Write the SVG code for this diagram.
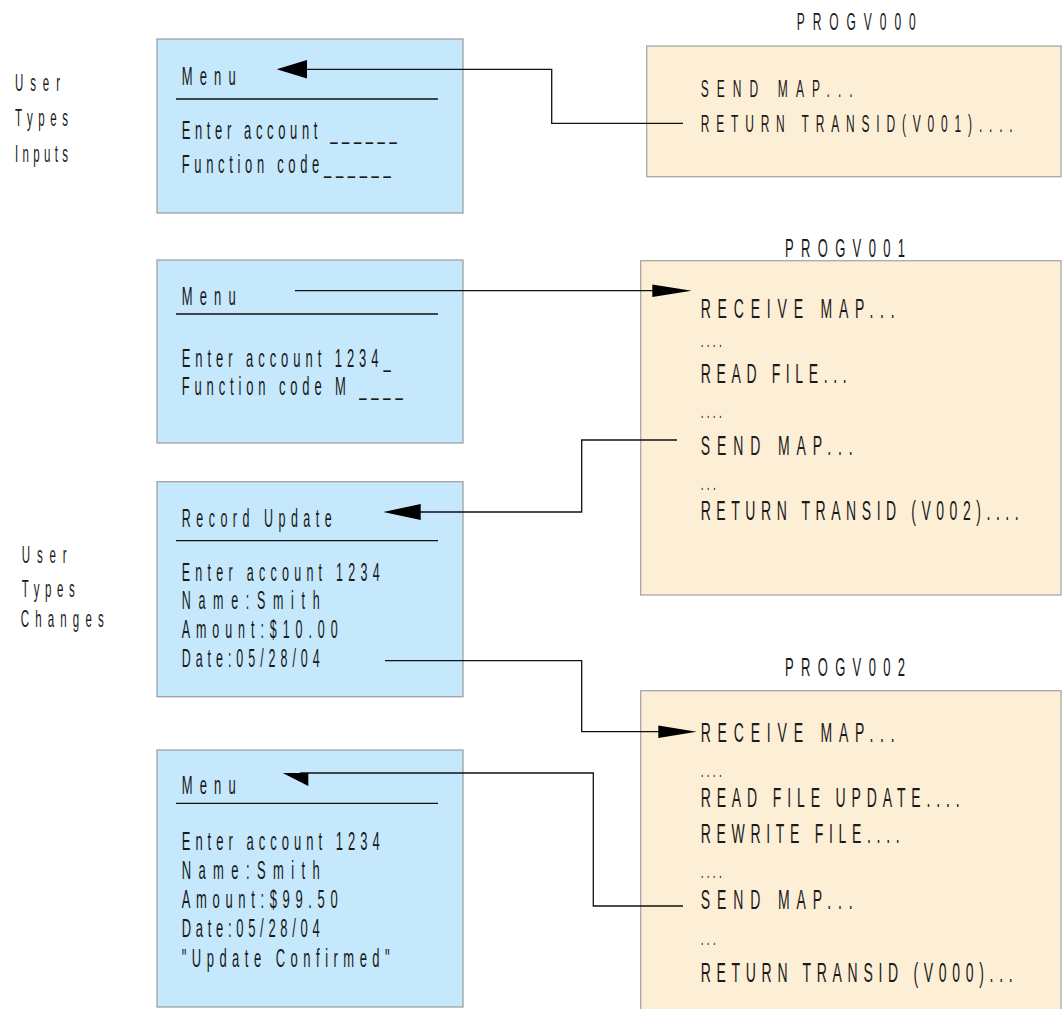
<svg xmlns="http://www.w3.org/2000/svg" width="1062" height="1009" viewBox="0 0 1062 1009">
<style>
text{font-family:"Liberation Sans",Arial,sans-serif;fill:#1a1a1a;}
.scr{fill:#c5e8fc;stroke:#a0a0a0;stroke-width:1.3;}
.prg{fill:#fdefd6;stroke:#a8a8a8;stroke-width:1.3;}
.hl{stroke:#111;stroke-width:1.3;fill:none;}
.c{stroke:#111;stroke-width:1.3;fill:none;}
.ah{fill:#000;stroke:none;}
.dots{font-size:20px;}
</style>
<rect width="1062" height="1009" fill="#fff"/>

<g id="label-inputs" font-size="23">
<text transform="scale(0.5,1)" x="30" y="90.7" textLength="90" lengthAdjust="spacing">User</text>
<text transform="scale(0.5,1)" x="30" y="126" textLength="106" lengthAdjust="spacing">Types</text>
<text transform="scale(0.5,1)" x="30" y="161.7" textLength="106" lengthAdjust="spacing">Inputs</text>
</g>
<g id="label-changes" font-size="23">
<text transform="scale(0.5,1)" x="43.4" y="563.3" textLength="90" lengthAdjust="spacing">User</text>
<text transform="scale(0.5,1)" x="43.4" y="596.7" textLength="106" lengthAdjust="spacing">Types</text>
<text transform="scale(0.5,1)" x="41.4" y="626.7" textLength="166" lengthAdjust="spacing">Changes</text>
</g>

<g id="screen1" font-size="26">
<rect class="scr" x="157" y="39" width="306" height="174"/>
<line class="hl" x1="176" y1="99" x2="438" y2="99"/>
<text transform="scale(0.5,1)" x="363.4" y="85" textLength="108" lengthAdjust="spacing">Menu</text>
<text transform="scale(0.5,1)" x="363.4" y="139.5" textLength="430" lengthAdjust="spacing">Enter account ______</text>
<text transform="scale(0.5,1)" x="363.4" y="173" textLength="418" lengthAdjust="spacing">Function code______</text>
</g>

<g id="screen2" font-size="26">
<rect class="scr" x="157" y="260" width="306" height="183"/>
<line class="hl" x1="176" y1="314" x2="438" y2="314"/>
<text transform="scale(0.5,1)" x="363.4" y="305" textLength="108" lengthAdjust="spacing">Menu</text>
<text transform="scale(0.5,1)" x="363.4" y="367" textLength="418" lengthAdjust="spacing">Enter account 1234_</text>
<text transform="scale(0.5,1)" x="363.4" y="395" textLength="442" lengthAdjust="spacing">Function code M ____</text>
</g>

<g id="screen3" font-size="25">
<rect class="scr" x="157" y="481.7" width="306" height="215"/>
<line class="hl" x1="176" y1="540.7" x2="438" y2="540.7"/>
<text transform="scale(0.5,1)" x="363.4" y="527.3" textLength="300" lengthAdjust="spacing">Record Update</text>
<text transform="scale(0.5,1)" x="363.4" y="580.7" textLength="396" lengthAdjust="spacing">Enter account 1234</text>
<text transform="scale(0.5,1)" x="363.4" y="609.3" textLength="276" lengthAdjust="spacing">Name:Smith</text>
<text transform="scale(0.5,1)" x="363.4" y="637.7" textLength="312" lengthAdjust="spacing">Amount:$10.00</text>
<text transform="scale(0.5,1)" x="363.4" y="667" textLength="276" lengthAdjust="spacing">Date:05/28/04</text>
</g>

<g id="screen4" font-size="26">
<rect class="scr" x="157" y="750" width="306" height="257"/>
<line class="hl" x1="176" y1="803.3" x2="438" y2="803.3"/>
<text transform="scale(0.5,1)" x="363.4" y="794" textLength="108" lengthAdjust="spacing">Menu</text>
<text transform="scale(0.5,1)" x="363.4" y="850" textLength="396" lengthAdjust="spacing">Enter account 1234</text>
<text transform="scale(0.5,1)" x="363.4" y="879.3" textLength="276" lengthAdjust="spacing">Name:Smith</text>
<text transform="scale(0.5,1)" x="363.4" y="908.3" textLength="312" lengthAdjust="spacing">Amount:$99.50</text>
<text transform="scale(0.5,1)" x="363.4" y="937.3" textLength="276" lengthAdjust="spacing">Date:05/28/04</text>
<text transform="scale(0.5,1)" x="363.4" y="966.7" textLength="416" lengthAdjust="spacing">"Update Confirmed"</text>
</g>

<g id="progv000" font-size="24">
<text transform="scale(0.5,1)" x="1593.4" y="30" font-size="24" textLength="238" lengthAdjust="spacing">PROGV000</text>
<rect class="prg" x="646.7" y="46" width="414.3" height="130.7"/>
<text transform="scale(0.5,1)" x="1401.4" y="96.7" textLength="304" lengthAdjust="spacing">SEND MAP...</text>
<text transform="scale(0.5,1)" x="1401.4" y="131.7" textLength="624" lengthAdjust="spacing">RETURN TRANSID(V001)....</text>
</g>

<g id="progv001" font-size="28">
<text transform="scale(0.5,1)" x="1570" y="257.3" font-size="26" textLength="240" lengthAdjust="spacing">PROGV001</text>
<rect class="prg" x="640.7" y="260.7" width="420.3" height="334.3"/>
<text transform="scale(0.5,1)" x="1401.4" y="318.3" textLength="388" lengthAdjust="spacing">RECEIVE MAP...</text>
<text class="dots" transform="scale(0.5,1)" x="1401.4" y="347.3" textLength="42" lengthAdjust="spacing">....</text>
<text transform="scale(0.5,1)" x="1401.4" y="382.7" textLength="292" lengthAdjust="spacing">READ FILE...</text>
<text class="dots" transform="scale(0.5,1)" x="1401.4" y="418.3" textLength="42" lengthAdjust="spacing">....</text>
<text transform="scale(0.5,1)" x="1401.4" y="455" textLength="304" lengthAdjust="spacing">SEND MAP...</text>
<text class="dots" transform="scale(0.5,1)" x="1401.4" y="490" textLength="30" lengthAdjust="spacing">...</text>
<text transform="scale(0.5,1)" x="1401.4" y="520" textLength="636" lengthAdjust="spacing">RETURN TRANSID (V002)....</text>
</g>

<g id="progv002" font-size="28">
<text transform="scale(0.5,1)" x="1570" y="676" font-size="26" textLength="240" lengthAdjust="spacing">PROGV002</text>
<rect class="prg" x="640.7" y="690.7" width="420.3" height="330"/>
<text transform="scale(0.5,1)" x="1401.4" y="741.7" textLength="388" lengthAdjust="spacing">RECEIVE MAP...</text>
<text class="dots" transform="scale(0.5,1)" x="1401.4" y="776.7" textLength="42" lengthAdjust="spacing">....</text>
<text transform="scale(0.5,1)" x="1401.4" y="806.7" textLength="518" lengthAdjust="spacing">READ FILE UPDATE....</text>
<text transform="scale(0.5,1)" x="1401.4" y="842.7" textLength="398" lengthAdjust="spacing">REWRITE FILE....</text>
<text class="dots" transform="scale(0.5,1)" x="1401.4" y="878.3" textLength="42" lengthAdjust="spacing">....</text>
<text transform="scale(0.5,1)" x="1401.4" y="909.3" textLength="304" lengthAdjust="spacing">SEND MAP...</text>
<text class="dots" transform="scale(0.5,1)" x="1401.4" y="945" textLength="30" lengthAdjust="spacing">...</text>
<text transform="scale(0.5,1)" x="1401.4" y="981.7" textLength="624" lengthAdjust="spacing">RETURN TRANSID (V000)...</text>
</g>

<g id="connectors">
<polyline class="c" points="683,123.3 551.7,123.3 551.7,69.3 300,69.3"/>
<polygon class="ah" points="276.7,69.3 307,60 307,78.6"/>
<polyline class="c" points="295,290.7 660,290.7"/>
<polygon class="ah" points="691.7,290.7 652.3,284.4 652.3,297"/>
<polyline class="c" points="677,440 581.7,440 581.7,512 410,512"/>
<polygon class="ah" points="383.3,512 420.7,504 420.7,520"/>
<polyline class="c" points="385,660.7 581.7,660.7 581.7,731.7 665,731.7"/>
<polygon class="ah" points="696.7,731.7 658.3,725.5 658.3,737.9"/>
<polyline class="c" points="683,906 593.3,906 593.3,773 300,773"/>
<polygon class="ah" points="282.7,773 308.3,773 308.3,786"/>
</g>
</svg>
